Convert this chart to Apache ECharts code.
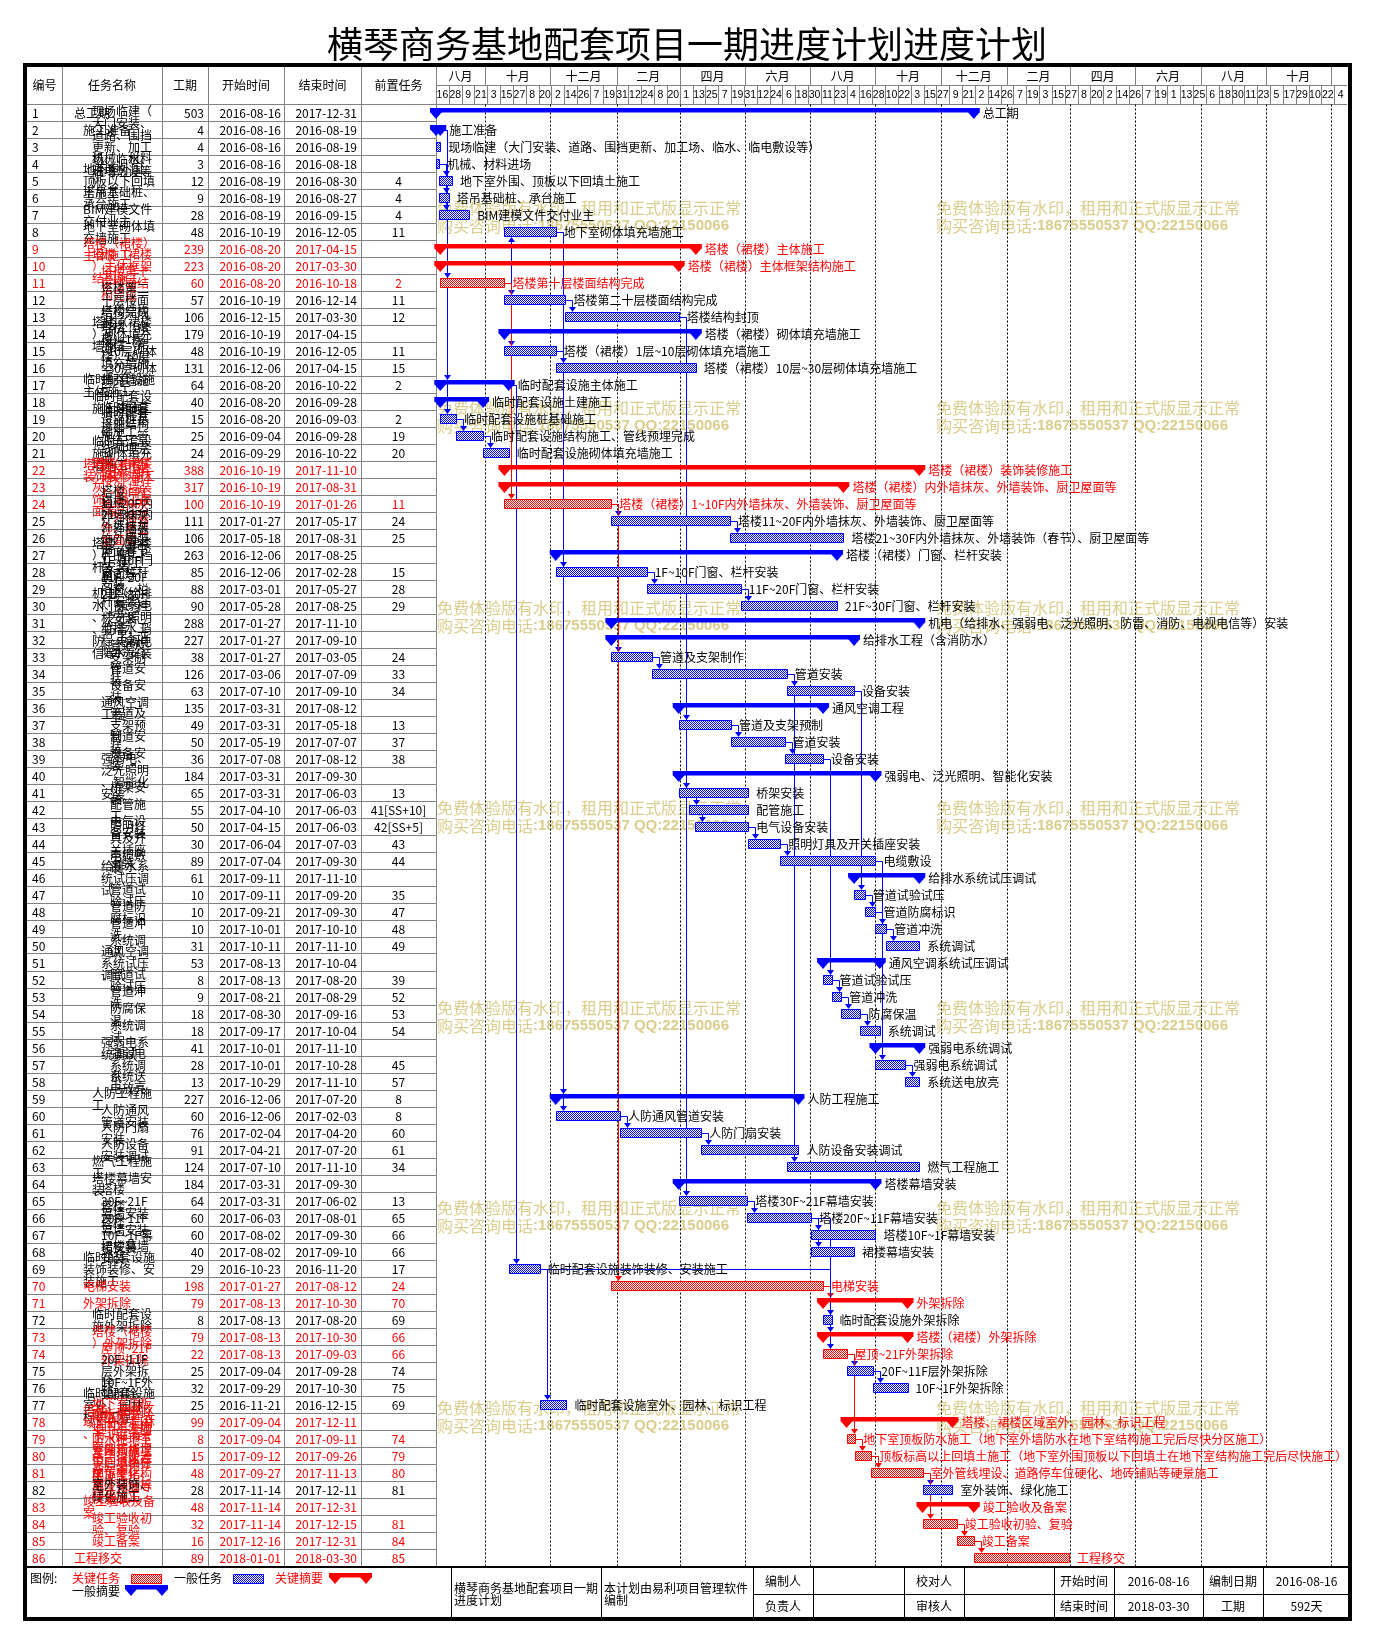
<!DOCTYPE html>
<html><head><meta charset="utf-8">
<script src="https://cdn.jsdelivr.net/npm/echarts@6/dist/echarts.min.js"></script>
<style>html,body{margin:0;padding:0;background:#fff}#c{width:1374px;height:1643px}</style>
</head><body><div id="c"></div>
<script>
// ---------------- DATA ----------------
const names = [
'总工期','施工准备','现场临建（大门安装、道路、围挡更新、加工场、临水、临电敷设等）','机械、材料进场','地下室外围、顶板以下回填土施工',
'塔吊基础桩、承台施工','BIM建模文件交付业主','地下室砌体填充墙施工','塔楼（裙楼）主体施工','塔楼（裙楼）主体框架结构施工',
'塔楼第十层楼面结构完成','塔楼第二十层楼面结构完成','塔楼结构封顶','塔楼（裙楼）砌体填充墙施工','塔楼（裙楼）1层~10层砌体填充墙施工',
'塔楼（裙楼）10层~30层砌体填充墙施工','临时配套设施主体施工','临时配套设施土建施工','临时配套设施桩基础施工','临时配套设施结构施工、管线预埋完成',
'临时配套设施砌体填充墙施工','塔楼（裙楼）装饰装修施工','塔楼（裙楼）内外墙抹灰、外墙装饰、厨卫屋面等','塔楼（裙楼）1~10F内外墙抹灰、外墙装饰、厨卫屋面等','塔楼11~20F内外墙抹灰、外墙装饰、厨卫屋面等',
'塔楼21~30F内外墙抹灰、外墙装饰（春节）、厨卫屋面等','塔楼（裙楼）门窗、栏杆安装','1F~10F门窗、栏杆安装','11F~20F门窗、栏杆安装','21F~30F门窗、栏杆安装',
'机电（给排水、强弱电、泛光照明、防雷、消防、电视电信等）安装','给排水工程（含消防水）','管道及支架制作','管道安装','设备安装',
'通风空调工程','管道及支架预制','管道安装','设备安装','强弱电、泛光照明、智能化安装',
'桥架安装','配管施工','电气设备安装','照明灯具及开关插座安装','电缆敷设',
'给排水系统试压调试','管道试验试压','管道防腐标识','管道冲洗','系统调试',
'通风空调系统试压调试','管道试验试压','管道冲洗','防腐保温','系统调试',
'强弱电系统调试','强弱电系统调试','系统送电放亮','人防工程施工','人防通风管道安装',
'人防门扇安装','人防设备安装调试','燃气工程施工','塔楼幕墙安装','塔楼30F~21F幕墙安装',
'塔楼20F~11F幕墙安装','塔楼10F~1F幕墙安装','裙楼幕墙安装','临时配套设施装饰装修、安装施工','电梯安装',
'外架拆除','临时配套设施外架拆除','塔楼（裙楼）外架拆除','屋顶~21F外架拆除','20F~11F层外架拆除',
'10F~1F外架拆除','临时配套设施室外、园林、标识工程','塔楼、裙楼区域室外、园林、标识工程','地下室顶板防水施工（地下室外墙防水在地下室结构施工完后尽快分区施工）','顶板标高以上回填土施工（地下室外围顶板以下回填土在地下室结构施工完后尽快施工）',
'室外管线埋设、道路停车位硬化、地砖铺贴等硬景施工','室外装饰、绿化施工','竣工验收及备案','竣工验收初验、复验','竣工备案',
'工程移交'];
const levels = [0,1,2,2,1,1,1,1,1,2, 3,3,3,2,3,3,1,2,3,3, 2,1,2,3,3,3,2,3,3,3, 2,3,4,4,4,3,4,4,4,3,
  4,4,4,4,4,3,4,4,4,4, 3,4,4,4,4,3,4,4,2,3, 3,3,2,2,3,3,3,3,1,1, 1,2,2,3,3,3,1,1,2,2, 2,2,1,2,2,0];
const durations = [503,4,4,3,12,9,28,48,239,223,60,57,106,179,48,131,64,40,15,25,24,388,317,100,111,106,263,85,88,90,
  288,227,38,126,63,135,49,50,36,184,65,55,50,30,89,61,10,10,10,31,53,8,9,18,18,41,28,13,227,60,
  76,91,124,184,64,60,60,40,29,198,79,8,79,22,25,32,25,99,8,15,48,28,48,32,16,89];
const starts = ['2016-08-16','2016-08-16','2016-08-16','2016-08-16','2016-08-19','2016-08-19','2016-08-19','2016-10-19','2016-08-20','2016-08-20',
'2016-08-20','2016-10-19','2016-12-15','2016-10-19','2016-10-19','2016-12-06','2016-08-20','2016-08-20','2016-08-20','2016-09-04',
'2016-09-29','2016-10-19','2016-10-19','2016-10-19','2017-01-27','2017-05-18','2016-12-06','2016-12-06','2017-03-01','2017-05-28',
'2017-01-27','2017-01-27','2017-01-27','2017-03-06','2017-07-10','2017-03-31','2017-03-31','2017-05-19','2017-07-08','2017-03-31',
'2017-03-31','2017-04-10','2017-04-15','2017-06-04','2017-07-04','2017-09-11','2017-09-11','2017-09-21','2017-10-01','2017-10-11',
'2017-08-13','2017-08-13','2017-08-21','2017-08-30','2017-09-17','2017-10-01','2017-10-01','2017-10-29','2016-12-06','2016-12-06',
'2017-02-04','2017-04-21','2017-07-10','2017-03-31','2017-03-31','2017-06-03','2017-08-02','2017-08-02','2016-10-23','2017-01-27',
'2017-08-13','2017-08-13','2017-08-13','2017-08-13','2017-09-04','2017-09-29','2016-11-21','2017-09-04','2017-09-04','2017-09-12',
'2017-09-27','2017-11-14','2017-11-14','2017-11-14','2017-12-16','2018-01-01'];
const ends = ['2017-12-31','2016-08-19','2016-08-19','2016-08-18','2016-08-30','2016-08-27','2016-09-15','2016-12-05','2017-04-15','2017-03-30',
'2016-10-18','2016-12-14','2017-03-30','2017-04-15','2016-12-05','2017-04-15','2016-10-22','2016-09-28','2016-09-03','2016-09-28',
'2016-10-22','2017-11-10','2017-08-31','2017-01-26','2017-05-17','2017-08-31','2017-08-25','2017-02-28','2017-05-27','2017-08-25',
'2017-11-10','2017-09-10','2017-03-05','2017-07-09','2017-09-10','2017-08-12','2017-05-18','2017-07-07','2017-08-12','2017-09-30',
'2017-06-03','2017-06-03','2017-06-03','2017-07-03','2017-09-30','2017-11-10','2017-09-20','2017-09-30','2017-10-10','2017-11-10',
'2017-10-04','2017-08-20','2017-08-29','2017-09-16','2017-10-04','2017-11-10','2017-10-28','2017-11-10','2017-07-20','2017-02-03',
'2017-04-20','2017-07-20','2017-11-10','2017-09-30','2017-06-02','2017-08-01','2017-09-30','2017-09-10','2016-11-20','2017-08-12',
'2017-10-30','2017-08-20','2017-10-30','2017-09-03','2017-09-28','2017-10-30','2016-12-15','2017-12-11','2017-09-11','2017-09-26',
'2017-11-13','2017-12-11','2017-12-31','2017-12-15','2017-12-31','2018-03-30'];
const preds = ['','','','','4','4','4','11','','',
'2','11','12','','11','15','2','','2','19',
'20','','','11','24','25','','15','28','29',
'','','24','33','34','','13','37','38','',
'13','41[SS+10]','42[SS+5]','43','44','','35','47','48','49',
'','39','52','53','54','','45','57','8','8',
'60','61','34','','13','65','66','66','17','24',
'70','69','66','66','74','75','69','','74','79',
'80','81','','81','84','85'];
const criticalRows = [9,10,11,22,23,24,70,71,73,74,78,79,80,81,83,84,85,86];
const summaryRows = [1,2,9,10,14,17,18,22,23,27,31,32,36,40,46,51,56,59,64,71,73,78,83];
const dayLabels = ['16','28','9','21','3','15','27','8','20','2','14','26','7','19','31','12','24','8','20','1',
 '13','25','7','19','31','12','24','6','18','30','11','23','4','16','28','10','22','3','15','27',
 '9','21','2','14','26','7','19','3','15','27','8','20','2','14','26','7','19','1','13','25',
 '6','18','30','11','23','5','17','29','10','22','4'];
const monthLabels = ['八月','十月','十二月','二月','四月','六月','八月','十月','十二月','二月','四月','六月','八月','十月',''];
const monthStarts = ['2016-08-16','2016-10-01','2016-12-01','2017-02-01','2017-04-01','2017-06-01','2017-08-01','2017-10-01',
 '2017-12-01','2018-02-01','2018-04-01','2018-06-01','2018-08-01','2018-10-01','2018-12-01'];
const axisStart = '2016-08-16', axisEnd = '2018-12-16';
const tableHeaders = ['编号','任务名称','工期','开始时间','结束时间','前置任务'];

// ---------------- HELPERS ----------------
const FF = '"Noto Sans CJK SC","Noto Sans",sans-serif';
const T0 = Date.UTC(2016,7,16);
function day(s){const p=s.split('-');return (Date.UTC(+p[0],+p[1]-1,+p[2])-T0)/86400000;}
const critSet = new Set(criticalRows), sumSet = new Set(summaryRows);
const rowCats = names.map((_,i)=>String(i+1));
const tickStep = 12;
function pattern(color){
  const c=document.createElement('canvas');c.width=2;c.height=2;const g=c.getContext('2d');
  g.fillStyle='#ffffff';g.fillRect(0,0,2,2);g.fillStyle=color;g.fillRect(0,0,1,1);g.fillRect(1,1,1,1);
  return {image:c,repeat:'repeat'};
}
const patB = pattern('#0000ff'), patR = pattern('#ff0000');
function txt(text,x,y,opt){
  opt=opt||{};
  const st={text:text,x:x,y:y,fill:opt.fill||'#000',font:opt.font||('12px '+FF),
    textAlign:opt.align||'left',align:opt.align||'left',textVerticalAlign:opt.va||'middle',verticalAlign:opt.va||'middle'};
  if(opt.width){st.width=opt.width;st.overflow='break';st.lineHeight=opt.lineHeight||12;}
  if(opt.rich){st.rich=opt.rich;}
  return {type:'text',style:st,z:opt.z};
}
function line(x1,y1,x2,y2,stroke,w,dash){
  return {type:'line',shape:{x1:x1,y1:y1,x2:x2,y2:y2},style:{stroke:stroke||'#808080',lineWidth:w||1,lineDash:dash||null}};
}
function summaryShapes(x0,x1,t,col){
  return [
    {type:'rect',shape:{x:x0-6,y:t,width:x1-x0+12,height:4.5},style:{fill:col}},
    {type:'polygon',shape:{points:[[x0-6,t+4],[x0+6,t+4],[x0,t+11]]},style:{fill:col}},
    {type:'polygon',shape:{points:[[x1-6,t+4],[x1+6,t+4],[x1,t+11]]},style:{fill:col}}
  ];
}
const colEdges=[0,35,135,181,257,334,409];

// ---------------- SERIES DATA ----------------
const tableData = names.map((_,i)=>[0,i]);
const barData = names.map((_,i)=>[day(starts[i]),day(ends[i])+1,i,sumSet.has(i+1)?1:0,critSet.has(i+1)?1:0]);
const linkData = [];
preds.forEach((p,i)=>{
  if(!p) return;
  const pi = parseInt(p,10)-1;
  const ss = p.indexOf('SS')>=0;
  const px = ss ? day(starts[pi]) : day(ends[pi])+1;
  const crit = (critSet.has(i+1)&&critSet.has(pi+1))?1:0;
  linkData.push([day(starts[i]),i,px,pi,crit]);
});

// ---------------- RENDERERS ----------------
function renderTable(params,api){
  const i=params.dataIndex, cs=params.coordSys;
  const yc=api.coord([0,i])[1];
  const X=v=>api.coord([v,i])[0];
  const col=critSet.has(i+1)?'#ff0000':'#000000';
  const ch=[];
  const yb=Math.round(yc+8.5)+0.5-1;
  ch.push(line(cs.x,yb,cs.x+cs.width,yb));
  colEdges.slice(1).forEach(e=>{const x=Math.round(X(e))+0.5;ch.push(line(x,yc-8.5,x,yc+8.5));});
  ch.push(txt(String(i+1),X(5),yc,{fill:col}));
  const ix=74+9*levels[i];
  ch.push(txt(names[i],X(ix-27),yc,{fill:col,width:158-ix,lineHeight:12}));
  ch.push(txt(String(durations[i]),X(177),yc,{fill:col,align:'right'}));
  ch.push(txt(starts[i],X(254),yc,{fill:col,align:'right'}));
  ch.push(txt(ends[i],X(330),yc,{fill:col,align:'right'}));
  ch.push(txt(preds[i],X(371.5),yc,{fill:col,align:'center'}));
  return {type:'group',children:ch};
}
function renderTableHeader(params,api){
  const cs=params.coordSys, top=cs.y-37.5, bot=cs.y;
  const X=v=>api.coord([v,0])[0];
  const ch=[line(cs.x,bot,cs.x+cs.width,bot)];
  colEdges.slice(1).forEach(e=>{const x=Math.round(X(e))+0.5;ch.push(line(x,top,x,bot));});
  tableHeaders.forEach((h,k)=>{ch.push(txt(h,(X(colEdges[k])+X(colEdges[k+1]))/2,(top+bot)/2,{align:'center'}));});
  return {type:'group',children:ch};
}
function renderGanttHeader(params,api){
  const cs=params.coordSys, top=cs.y-37.5, mid=cs.y-19, bot=cs.y;
  const X=d=>api.coord([d,0])[0];
  const ch=[line(cs.x,mid,cs.x+cs.width,mid),line(cs.x,bot,cs.x+cs.width,bot)];
  const bounds=monthStarts.map(day).concat([day(axisEnd)]);
  for(let k=0;k<monthStarts.length;k++){
    const xa=X(bounds[k]), xb=X(bounds[k+1]);
    if(k>0){const x=Math.round(xa)+0.5;ch.push(line(x,top,x,mid));
      ch.push(line(x,bot,x,cs.y+cs.height,'#000000',1,[2,2]));}
    if(monthLabels[k]) ch.push(txt(monthLabels[k],(xa+xb)/2,(top+mid)/2,{align:'center'}));
  }
  for(let j=0;j<dayLabels.length;j++){
    const xa=X(j*tickStep), xb=X(Math.min((j+1)*tickStep,day(axisEnd)));
    if(j>0){const x=Math.round(xa)+0.5;ch.push(line(x,mid,x,bot));}
    ch.push(txt(dayLabels[j],(xa+xb)/2,(mid+bot)/2+0.5,{align:'center',font:'10.5px "Liberation Sans",sans-serif'}));
  }
  return {type:'group',children:ch};
}
function renderLinks(params,api){
  const s=api.coord([api.value(0),api.value(1)]);
  const p=api.coord([api.value(2),api.value(3)]);
  const col=api.value(4)===1?'#ff0000':'#0000ff';
  const xv=Math.round(s[0]+7)+0.5, yp=Math.round(p[1])+0.5;
  const down=s[1]>p[1];
  const yEnd=down?s[1]-5:s[1]+5;
  const ya=down?yEnd-5:yEnd+5;
  return {type:'group',children:[
    line(p[0],yp,xv,yp,col),
    line(xv,yp,xv,ya,col),
    {type:'polygon',shape:{points:[[xv-3.5,ya],[xv+3.5,ya],[xv,yEnd]]},style:{fill:col}}
  ]};
}
function renderBars(params,api){
  const i=params.dataIndex;
  const p0=api.coord([api.value(0),api.value(2)]), p1=api.coord([api.value(1),api.value(2)]);
  const x0=p0[0], x1=p1[0], yc=p0[1];
  const isSum=api.value(3)===1, isCrit=api.value(4)===1;
  const col=isCrit?'#ff0000':'#0000ff', tc=isCrit?'#ff0000':'#000000';
  let ch=[];
  if(isSum){
    ch=summaryShapes(x0,x1,yc-5,col);
    ch.push(txt(names[i],x1+9,yc+0.5,{fill:tc}));
  } else {
    const L=Math.round(x0)+0.5, R=Math.max(Math.round(x1)+0.5,L+2);
    ch.push({type:'rect',shape:{x:L,y:yc-4.5,width:R-L,height:9},style:{fill:isCrit?patR:patB,stroke:col,lineWidth:1}});
    ch.push(txt(names[i],x1+8,yc+0.5,{fill:tc}));
  }
  return {type:'group',children:ch};
}

// ---------------- GRAPHICS (title, frame, watermark, footer) ----------------
const WM='#dacd8c';
const graphics=[];
graphics.push(txt('横琴商务基地配套项目一期进度计划进度计划',687,44,{align:'center',font:'36px '+FF}));
for(let r=0;r<7;r++){
  [437,936].forEach(x=>{
    const y=208+r*200;
    graphics.push(txt('免费体验版有水印，租用和正式版显示正常',x,y,{fill:WM,font:'16px '+FF}));
    graphics.push(txt('{a|购买咨询电话}{b|:18675550537 QQ:22150066}',x,y+18,{fill:WM,font:'16px '+FF,
      rich:{a:{font:'16px '+FF,fill:WM},b:{font:'bold 15px "Liberation Sans",sans-serif',fill:WM}}}));
  });
}
// footer
const fTop=1567, fMid=1594, fBot=1617;
graphics.push({type:'line',shape:{x1:25,y1:fTop,x2:1350,y2:fTop},style:{stroke:'#000',lineWidth:2},z:50});
[451,601,753,813,904,964,1054,1114,1203,1263].forEach(x=>{
  graphics.push({type:'line',shape:{x1:x+0.5,y1:fTop,x2:x+0.5,y2:fBot},style:{stroke:'#000',lineWidth:1},z:50});
});
graphics.push({type:'line',shape:{x1:753,y1:fMid+0.5,x2:1350,y2:fMid+0.5},style:{stroke:'#000',lineWidth:1},z:50});
graphics.push(txt('横琴商务基地配套项目一期',454,1588));
graphics.push(txt('进度计划',454,1600));
graphics.push(txt('本计划由易利项目管理软件',604,1588));
graphics.push(txt('编制',604,1600));
const fCells=[[783,'编制人','负责人'],[934,'校对人','审核人'],[1084,'开始时间','结束时间'],[1158.5,'2016-08-16','2018-03-30'],[1233,'编制日期','工期'],[1306.5,'2016-08-16','592天']];
fCells.forEach(c=>{graphics.push(txt(c[1],c[0],1581,{align:'center'}));graphics.push(txt(c[2],c[0],1606,{align:'center'}));});
// legend
graphics.push(txt('图例:',30,1578));
graphics.push(txt('关键任务',72,1578,{fill:'#ff0000'}));
graphics.push({type:'rect',shape:{x:131.5,y:1574.5,width:30,height:9},style:{fill:patR,stroke:'#ff0000',lineWidth:1}});
graphics.push(txt('一般任务',174,1578));
graphics.push({type:'rect',shape:{x:233.5,y:1574.5,width:30,height:9},style:{fill:patB,stroke:'#0000ff',lineWidth:1}});
graphics.push(txt('关键摘要',275,1578,{fill:'#ff0000'}));
summaryShapes(335,366,1573,'#ff0000').forEach(s=>graphics.push(s));
graphics.push(txt('一般摘要',72,1591));
summaryShapes(131,162,1585,'#0000ff').forEach(s=>graphics.push(s));
// frame
graphics.push({type:'rect',shape:{x:25,y:65,width:1325,height:1554},style:{fill:null,stroke:'#000',lineWidth:4},z:100});

// ---------------- CHART ----------------
const chart=echarts.init(document.getElementById('c'));
chart.setOption({
  animation:false,
  backgroundColor:'#ffffff',
  grid:[{left:27,top:104.5,width:409,height:1462},{left:436,top:104.5,width:911,height:1462}],
  xAxis:[{type:'value',gridIndex:0,min:0,max:409,show:false},
         {type:'value',gridIndex:1,min:day(axisStart),max:day(axisEnd),show:false}],
  yAxis:[{type:'category',gridIndex:0,data:rowCats,inverse:true,show:false},
         {type:'category',gridIndex:1,data:rowCats,inverse:true,show:false}],
  graphic:{elements:graphics},
  series:[
    {type:'custom',name:'tableHeader',xAxisIndex:0,yAxisIndex:0,data:[[0,0]],renderItem:renderTableHeader,silent:true,z:1,clip:false},
    {type:'custom',name:'table',xAxisIndex:0,yAxisIndex:0,data:tableData,encode:{x:0,y:1},renderItem:renderTable,silent:true,z:2,clip:false},
    {type:'custom',name:'ganttHeader',xAxisIndex:1,yAxisIndex:1,data:[[0,0]],renderItem:renderGanttHeader,silent:true,z:1,clip:false},
    {type:'custom',name:'links',xAxisIndex:1,yAxisIndex:1,data:linkData,encode:{x:0,y:1},renderItem:renderLinks,silent:true,z:2,clip:false},
    {type:'custom',name:'bars',xAxisIndex:1,yAxisIndex:1,data:barData,encode:{x:[0,1],y:2},renderItem:renderBars,silent:true,z:3,clip:false}
  ]
});
</script>
</body></html>
